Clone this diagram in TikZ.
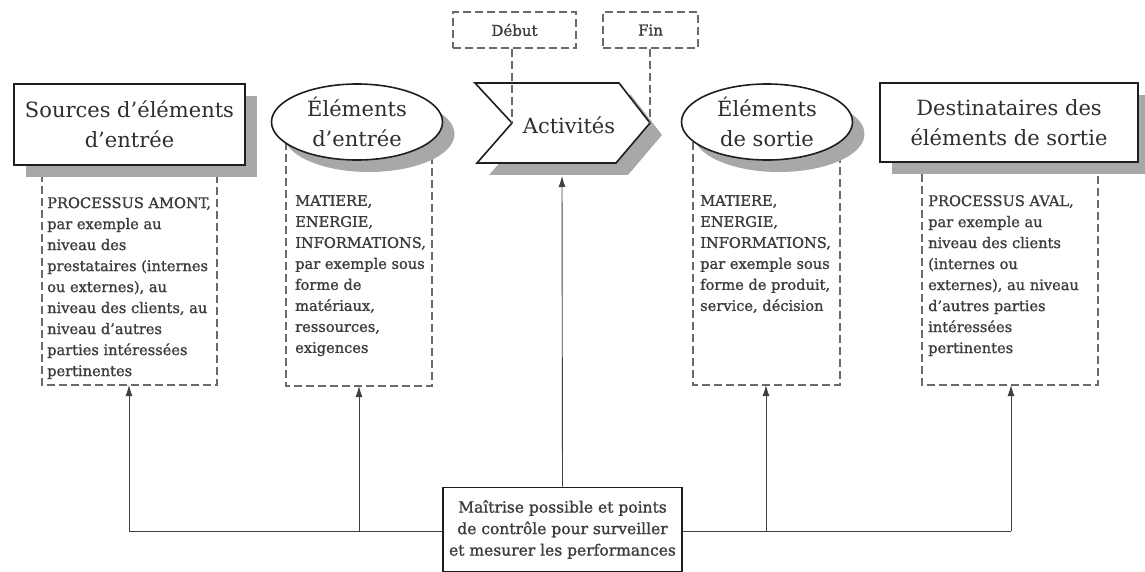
\documentclass[tikz,border=0pt]{standalone}
\usepackage{fontspec}
\setmainfont{DejaVu Serif}
\newfontfamily\bodyfont[FakeBold=1.2]{DejaVu Serif}
\usetikzlibrary{arrows.meta,shapes.geometric}
\definecolor{ink}{HTML}{1E1E1E}
\definecolor{dashgray}{HTML}{6A6A6A}
\definecolor{txt}{HTML}{2E2E2E}
\definecolor{bodytxt}{HTML}{3C3C3C}
\definecolor{shadowgray}{HTML}{A8A8A8}
\begin{document}
\begin{tikzpicture}[x=1pt,y=-1pt,
  titlebox/.style={draw=ink,line width=1.6pt,fill=white,inner sep=0pt,align=center,text=txt,font=\fontsize{21}{30}\selectfont},
  titleell/.style={ellipse,draw=ink,line width=1.6pt,fill=white,inner sep=0pt,minimum width=171pt,minimum height=76pt,align=center,text=txt,font=\fontsize{21}{30}\selectfont},
  shadowell/.style={ellipse,fill=shadowgray,inner sep=0pt,minimum width=171pt,minimum height=76pt},
  bodytext/.style={anchor=north west,inner sep=0pt,align=left,text=bodytxt,font=\bodyfont\fontsize{14.6}{21}\selectfont},
  dashbox/.style={draw=dashgray,line width=1.1pt,dash pattern=on 8pt off 4pt},
  smallbox/.style={draw=dashgray,line width=1.1pt,dash pattern=on 8pt off 4pt,inner sep=0pt,text=bodytxt,font=\bodyfont\fontsize{15}{18}\selectfont},
  conn/.style={draw=ink!85,line width=0.9pt},
  arr/.style={draw=ink!85,line width=0.9pt,-{Latex[length=11pt,width=7pt]}},
  ctrlbox/.style={draw=ink,line width=1.8pt,fill=white,inner sep=0pt,minimum width=239pt,minimum height=84pt,align=center,text=bodytxt,font=\bodyfont\fontsize{15.5}{21.5}\selectfont}
]
\useasboundingbox (0,0) rectangle (1145,572);

% dashed frames below the shapes
\draw[dashbox] (42,150) -- (42,385) -- (217,385) -- (217,150);
\draw[dashbox] (286,130) -- (286,386) -- (432,386) -- (432,130);
\draw[dashbox] (693,130) -- (693,385) -- (840,385) -- (840,130);
\draw[dashbox] (922,150) -- (922,385) -- (1098,385) -- (1098,150);

% shadows
\fill[shadowgray] (26,96) rectangle (257,177);
\node[shadowell] (in-sh) at (369,134) {};
\fill[shadowgray] (487,95) -- (631,95) -- (662,135) -- (628,175) -- (489,175) -- (524,135) -- cycle;
\node[shadowell] (out-sh) at (779,134) {};
\fill[shadowgray] (892,95) rectangle (1150,174);

% main shapes
\node[titlebox,minimum width=231pt,minimum height=81pt] (src) at (129.5,124.5) {Sources d’éléments\\d’entrée};
\node[titleell] (in) at (357,122) {Éléments\\d’entrée};
\coordinate (notch) at (512,123);
\coordinate (tip) at (650,123);
\draw[ink,line width=1.6pt,fill=white] (475,83) -- (619,83) -- (tip) -- (616,163) -- (477,163) -- (notch) -- cycle;
\node[inner sep=0pt,text=txt,font=\fontsize{21}{30}\selectfont] (act) at (569,125) {Activités};
\node[titleell] (out) at (767,122) {Éléments\\de sortie};
\node[titlebox,minimum width=258pt,minimum height=79pt] (dst) at (1009,122.5) {Destinataires des\\éléments de sortie};

% start / end
\node[smallbox,minimum width=123pt,minimum height=36pt] (deb) at (514.5,30) {Début};
\node[smallbox,minimum width=95pt,minimum height=36pt] (fin) at (650.5,30) {Fin};
\draw[dashbox] (deb.south -| notch) -- (notch);
\draw[dashbox] (fin.south -| tip) -- (tip);

% body texts
\node[bodytext] (t1) at (47,197) {PROCESSUS AMONT,\\par exemple au\\niveau des\\prestataires (internes\\ou externes), au\\niveau des clients, au\\niveau d’autres\\parties intéressées\\pertinentes};
\node[bodytext] (t2) at (295,195) {MATIERE,\\ENERGIE,\\INFORMATIONS,\\par exemple sous\\forme de\\matériaux,\\ressources,\\exigences};
\node[bodytext] (t4) at (700,195) {MATIERE,\\ENERGIE,\\INFORMATIONS,\\par exemple sous\\forme de produit,\\service, décision};
\node[bodytext] (t5) at (928,195) {PROCESSUS AVAL,\\par exemple au\\niveau des clients\\(internes ou\\externes), au niveau\\d’autres parties\\intéressées\\pertinentes};

% control connectors
\coordinate (b1) at (129,385);
\coordinate (b2) at (359,386);
\coordinate (b4) at (766,385);
\coordinate (b5) at (1011,385);
\coordinate (h1) at (129,531);
\coordinate (h2) at (359,531);
\coordinate (h4) at (766,531);
\coordinate (h5) at (1011,531);
\coordinate (actsh) at (562,176);
\draw[conn] (h1) -- (h5);
\draw[arr] (h1) -- (b1);
\draw[arr] (h2) -- (b2);
\draw[arr] (h4) -- (b4);
\draw[arr] (h5) -- (b5);
\node[ctrlbox] (ctrl) at (562.5,529.5) {Maîtrise possible et points\\de contrôle pour surveiller\\et mesurer les performances};
\draw[arr] (ctrl.north) -- (actsh);
\end{tikzpicture}
\end{document}
